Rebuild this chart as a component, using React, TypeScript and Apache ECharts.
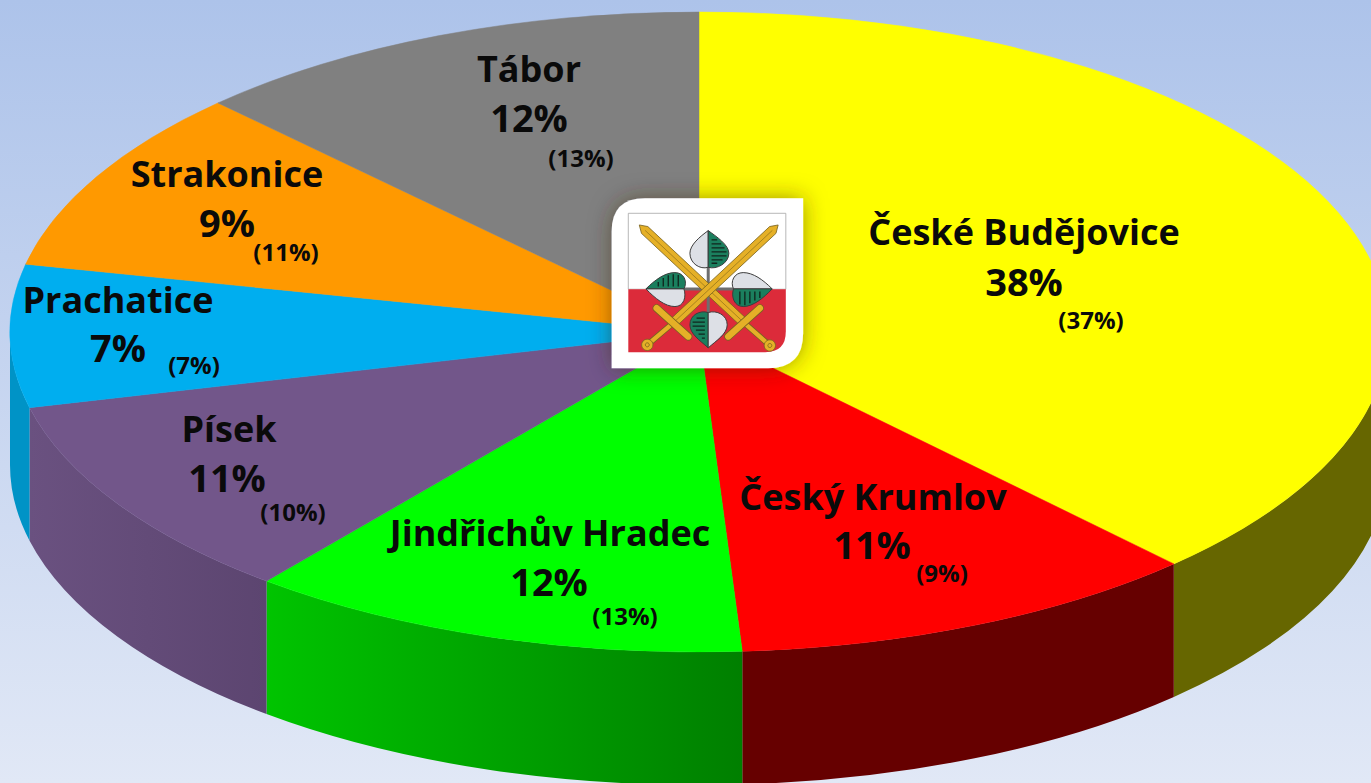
import React, { useEffect, useRef } from "react";
import * as echarts from "echarts";

const districts = ["České Budějovice", "Český Krumlov", "Jindřichův Hradec", "Písek", "Prachatice", "Strakonice", "Tábor"];
const sliceShares = [37.9, 11.1, 11.8, 10.4, 7.2, 9.3, 12.3];
const shareLabels = ["38%", "11%", "12%", "11%", "7%", "9%", "12%"];
const comparisonLabels = ["(37%)", "(9%)", "(13%)", "(10%)", "(7%)", "(11%)", "(13%)"];

const topColors = ["#FFFF00", "#FF0000", "#00FF00", "#72568A", "#00AEEF", "#FF9900", "#808080"];
const sideLeftColors = ["#666600", "#660000", "#00C400", "#6A5180", "#0093C6", "#996600", "#4D4D4D"];
const sideRightColors = ["#666600", "#660000", "#007F00", "#5C4570", "#0093C6", "#996600", "#4D4D4D"];

const CX = 699, CY = 332, RX = 689, RY = 320, DEPTH = 133;

// label anchor centres [name, share, comparison]
const labelAnchors = [
  [[1024, 231], [1024, 281], [1091, 319]],
  [[873, 496], [872, 544], [942, 572]],
  [[550, 532], [549, 581], [625, 615]],
  [[229, 428], [227, 477], [293, 511]],
  [[118, 299], [118, 347], [194, 364]],
  [[227, 173], [227, 222], [286, 251]],
  [[529, 68], [529, 117], [581, 157]],
];

const total = sliceShares.reduce((a, b) => a + b, 0);
const pt = (deg: number, dy = 0) => {
  const r = (deg * Math.PI) / 180;
  return [CX + RX * Math.sin(r), CY - RY * Math.cos(r) + dy];
};
const startDeg = (i: number) => (sliceShares.slice(0, i).reduce((a, b) => a + b, 0) / total) * 360;

const renderSlice = (params: any, api: any) => {
  const i = params.dataIndex;
  const value = api.value(1);
  const a0 = startDeg(i);
  const a1 = a0 + (value / total) * 360;
  const children: any[] = [];
  const s0 = Math.max(a0, 90), s1 = Math.min(a1, 270);
  if (s1 > s0) {
    const p = pt(s0), q = pt(s1), qd = pt(s1, DEPTH), pd = pt(s0, DEPTH);
    children.push({
      type: "path",
      shape: { pathData: `M${p[0]} ${p[1]}A${RX} ${RY} 0 0 1 ${q[0]} ${q[1]}L${qd[0]} ${qd[1]}A${RX} ${RY} 0 0 0 ${pd[0]} ${pd[1]}Z` },
      style: {
        fill: {
          type: "linear", x: 0, y: 0, x2: 1, y2: 0,
          colorStops: [{ offset: 0, color: sideLeftColors[i] }, { offset: 1, color: sideRightColors[i] }],
        },
      },
    });
  }
  const p = pt(a0), q = pt(a1);
  children.push({
    type: "path",
    shape: { pathData: `M${CX} ${CY}L${p[0]} ${p[1]}A${RX} ${RY} 0 ${a1 - a0 > 180 ? 1 : 0} 1 ${q[0]} ${q[1]}Z` },
    style: { fill: topColors[i], stroke: topColors[i], lineWidth: 0.5 },
  });
  return { type: "group", children };
};

const renderLabels = (params: any) => {
  const i = params.dataIndex;
  const [n, s, c] = labelAnchors[i];
  const text = (pos: number[], str: string, size: number) => ({
    type: "text",
    x: pos[0], y: pos[1],
    style: {
      text: str, fill: "#0a0a0a", align: "center", verticalAlign: "middle",
      font: `700 ${size}px "Open Sans", sans-serif`,
    },
  });
  return {
    type: "group",
    children: [text(n, districts[i], 36), text(s, shareLabels[i], 38), text(c, comparisonLabels[i], 24)],
  };
};

const P: Record<string, string> = {
  frame: "M135 25L610 25L610 430Q610 535 505 535L35 535L35 125Q35 25 135 25Z",
  red: "M85 298L558 298L558 425Q558 487 496 487L85 487Z",
  topW: "M325 122C300 140 270 165 270 190C270 220 300 240 325 232Z",
  topG: "M325 122C350 140 387 165 387 190C387 220 350 240 325 232Z",
  botG: "M325 474C300 452 270 432 270 405C270 375 300 360 325 368Z",
  botW: "M325 474C350 452 382 432 382 405C382 375 350 360 325 368Z",
  leftG: "M138 297C165 270 195 248 225 248C252 248 264 275 252 297Z",
  leftW: "M138 297C165 325 195 350 225 350C252 350 260 320 252 297Z",
  rightW: "M517 297C490 270 460 248 430 248C403 248 390 275 401 297Z",
  rightG: "M517 297C490 325 460 350 430 350C403 350 393 320 401 297Z",
  stripes:
    "M335 150L352 150M335 162L364 162M335 174L374 174M335 186L380 186M335 198L380 198M335 210L368 210M335 220L352 220" +
    "M315 385L290 385M315 397L278 397M315 409L278 409M315 421L288 421M315 433L296 433M315 445L306 445" +
    "M175 290L175 276M190 290L190 264M205 290L205 256M220 290L220 253M235 290L235 255" +
    "M420 305L420 344M435 305L435 346M450 305L450 340M465 305L465 332M480 305L480 324",
};
Object.keys(P).forEach((k) => {
  echarts.graphic.registerShape("crest_" + k, (echarts.graphic as any).extendPath(P[k], {}));
});

const GOLD = "#E5B027", EDGE = "#7A6420";
const shape = (k: string, style: any) => ({ type: "crest_" + k, z: 100, style });
const seg = (x1: number, y1: number, x2: number, y2: number, w: number, c: string) => ({
  type: "line", z: 100, shape: { x1, y1, x2, y2 }, style: { stroke: c, lineWidth: w, lineCap: "round" },
});
const sword = (tip: number[], hilt: number[], guardA: number[], guardB: number[], pommel: number[]) => {
  const dx = hilt[0] - tip[0], dy = hilt[1] - tip[1];
  const L = Math.hypot(dx, dy), ux = dx / L, uy = dy / L, w = 14;
  const sh = [tip[0] + ux * 22, tip[1] + uy * 22];
  return [
    seg(hilt[0], hilt[1], pommel[0], pommel[1], 18, EDGE),
    seg(hilt[0], hilt[1], pommel[0], pommel[1], 13, GOLD),
    {
      type: "polygon", z: 100,
      shape: {
        points: [tip, [sh[0] - uy * w, sh[1] + ux * w], [hilt[0] - uy * w, hilt[1] + ux * w], [hilt[0] + uy * w, hilt[1] - ux * w], [sh[0] + uy * w, sh[1] - ux * w]],
      },
      style: { fill: GOLD, stroke: EDGE, lineWidth: 2.5 },
    },
    seg(tip[0] + ux * 25, tip[1] + uy * 25, hilt[0], hilt[1], 2.5, "#9A7A1C"),
    seg(guardA[0], guardA[1], guardB[0], guardB[1], 24, EDGE),
    seg(guardA[0], guardA[1], guardB[0], guardB[1], 19, GOLD),
    { type: "circle", z: 100, shape: { cx: pommel[0], cy: pommel[1], r: 17 }, style: { fill: GOLD, stroke: EDGE, lineWidth: 2.5 } },
    { type: "circle", z: 100, shape: { cx: pommel[0], cy: pommel[1], r: 6 }, style: { fill: GOLD, stroke: EDGE, lineWidth: 2.5 } },
  ];
};

const leafStroke = { stroke: "#3c3c3c", lineWidth: 3 };
const W = "#DDE0E6", G = "#1B7F5E";
const crest = {
  type: "group",
  x: 600, y: 190, scaleX: 1 / 3, scaleY: 1 / 3,
  children: [
    shape("frame", { fill: "#fff", shadowBlur: 22, shadowColor: "rgba(60,40,0,0.5)" }),
    { type: "rect", z: 100, shape: { x: 85, y: 70, width: 473, height: 228 }, style: { fill: "#fff", stroke: "#a8a8a8", lineWidth: 2.5 } },
    shape("red", { fill: "#DC2B3A" }),
    seg(325, 130, 325, 465, 9, "#6E6E6E"),
    seg(150, 297, 505, 297, 9, "#6E6E6E"),
    shape("topW", { fill: W, ...leafStroke }),
    shape("topG", { fill: G, ...leafStroke }),
    shape("botG", { fill: G, ...leafStroke }),
    shape("botW", { fill: W, ...leafStroke }),
    shape("leftG", { fill: G, ...leafStroke }),
    shape("leftW", { fill: W, ...leafStroke }),
    shape("rightW", { fill: W, ...leafStroke }),
    shape("rightG", { fill: G, ...leafStroke }),
    shape("stripes", { fill: "none", stroke: "#10261e", lineWidth: 4 }),
    ...sword([118, 105], [432, 398], [385, 440], [480, 355], [510, 467]),
    ...sword([535, 105], [221, 398], [265, 440], [170, 355], [142, 465]),
  ],
};

export default function App() {
  const ref = useRef<HTMLDivElement>(null);
  useEffect(() => {
    const chart = echarts.init(ref.current!, undefined, { renderer: "svg" });
    const sliceData = sliceShares.map((v, i) => [i, v]);
    chart.setOption({
      animation: false,
      backgroundColor: {
        type: "linear", x: 0, y: 0, x2: 0, y2: 1,
        colorStops: [{ offset: 0, color: "#ADC3EA" }, { offset: 1, color: "#E1E8F6" }],
      },
      graphic: { elements: [crest] },
      series: [
        { type: "custom", coordinateSystem: "none", silent: true, renderItem: renderSlice, data: sliceData, z: 1 },
        { type: "custom", coordinateSystem: "none", silent: true, renderItem: renderLabels, data: sliceData, z: 3 },
      ],
    });
    return () => chart.dispose();
  }, []);
  return <div ref={ref} style={{ position: "fixed", left: 0, top: 0, width: 1371, height: 783 }} />;
}
